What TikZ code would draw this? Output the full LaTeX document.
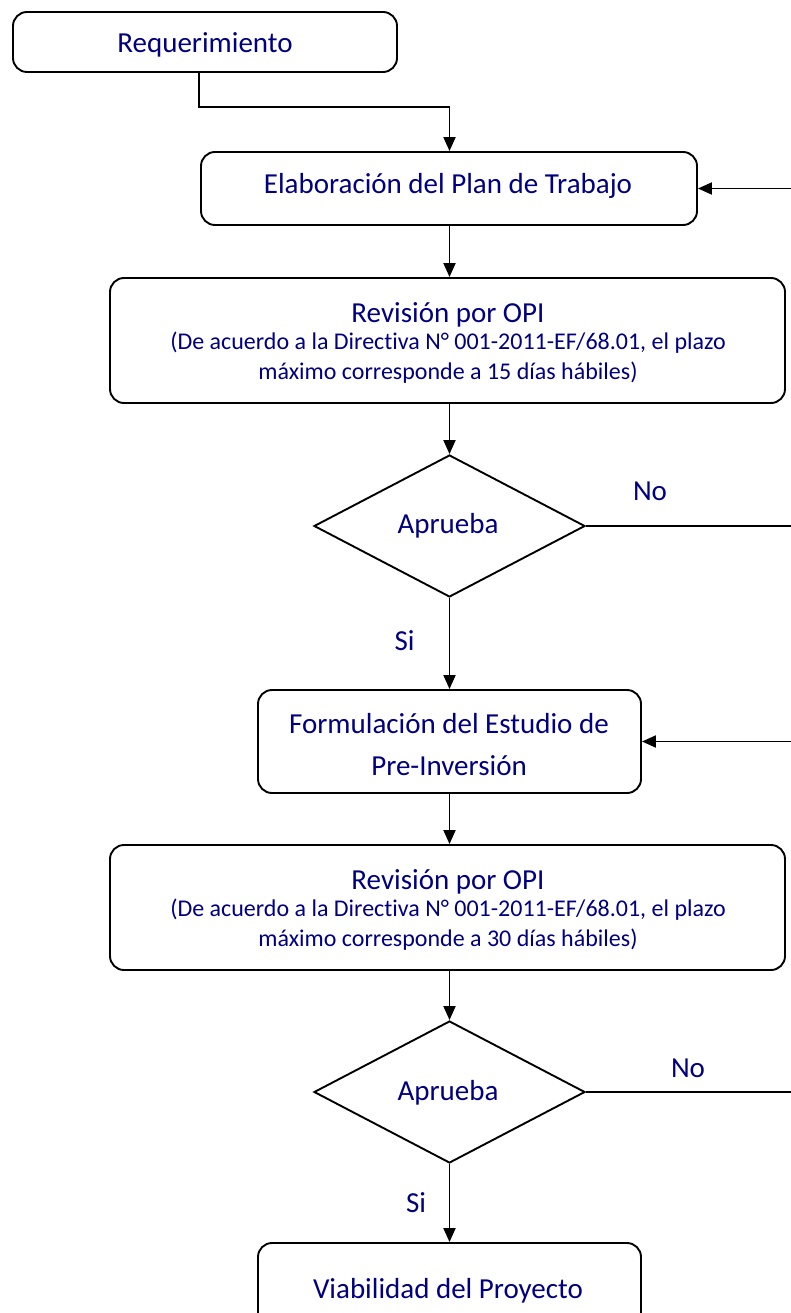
\documentclass[tikz,border=0pt]{standalone}
\usepackage{fontspec}
\setmainfont{Carlito}[Ligatures=NoCommon]
\usetikzlibrary{arrows.meta,shapes.geometric}
\definecolor{txt}{RGB}{0,0,128}
\newcommand{\smalltxt}{\fontsize{24}{30}\selectfont}
\newcommand{\bigtxt}{\fontsize{29}{35}\selectfont}
\begin{document}
\begin{tikzpicture}[x=1pt,y=-1pt,line width=1.9pt,
  box/.style={draw,rounded corners=14pt,inner sep=0pt},
  dec/.style={draw,diamond,inner sep=0pt,minimum width=271pt,minimum height=142pt},
  arr/.style={-{Triangle[length=14pt,width=12pt]}},
  bt/.style={text=txt,font=\bigtxt,inner sep=0pt,anchor=base},
  st/.style={text=txt,font=\smalltxt,inner sep=0pt,anchor=base},
]
\useasboundingbox (0,0) rectangle (791,1313);
\clip (0,0) rectangle (791,1313);
% boxes
\node[box,minimum width=384pt,minimum height=60pt] (req) at (205,42) {};
\node[box,minimum width=496pt,minimum height=73pt] (elab) at (449,188.5) {};
\node[box,minimum width=675pt,minimum height=125pt] (rev1) at (447.5,340.5) {};
\node[dec] (d1) at (449.5,526) {};
\node[box,minimum width=383pt,minimum height=103pt] (form) at (449.5,741.5) {};
\node[box,minimum width=675pt,minimum height=125pt] (rev2) at (447.5,907.5) {};
\node[dec] (d2) at (449.5,1092) {};
\node[box,minimum width=383pt,minimum height=88pt] (viab) at (449.5,1287) {};
% texts
\node[bt] (reqt) at (205,53) {Requerimiento};
\node[bt] (elabt) at (448,194) {Elaboración del Plan de Trabajo};
\node[bt] (rev1a) at (448,322) {Revisión por OPI};
\node[st] (rev1b) at (448,349) {(De acuerdo a la Directiva N° 001-2011-EF/68.01, el plazo};
\node[st] (rev1c) at (448,379) {máximo corresponde a 15 días hábiles)};
\node[bt] (d1t) at (448,533) {Aprueba};
\node[bt] (forma) at (449,733) {Formulación del Estudio de};
\node[bt] (formb) at (449,775) {Pre-Inversión};
\node[bt] (rev2a) at (448,889) {Revisión por OPI};
\node[st] (rev2b) at (448,916) {(De acuerdo a la Directiva N° 001-2011-EF/68.01, el plazo};
\node[st] (rev2c) at (448,946) {máximo corresponde a 30 días hábiles)};
\node[bt] (d2t) at (448,1100) {Aprueba};
\node[bt] (viabt) at (448,1298) {Viabilidad del Proyecto};
\node[bt] (no1) at (650,500) {No};
\node[bt] (si1) at (404.5,650) {Si};
\node[bt] (no2) at (688,1077) {No};
\node[bt] (si2) at (416,1212) {Si};
% connectors
\coordinate (col) at (449.5,0);
\coordinate (k1) at (199,107);
\coordinate (r1) at (805,526);
\coordinate (r2) at (805,1092);
\draw[arr] (k1 |- req.south) -- (k1) -| (elab.north -| col);
\draw[arr] (elab.south -| col) -- (rev1.north -| col);
\draw[arr] (rev1.south -| col) -- (d1.north);
\draw[arr] (d1.south) -- (form.north -| col);
\draw[arr] (form.south -| col) -- (rev2.north -| col);
\draw[arr] (rev2.south -| col) -- (d2.north);
\draw[arr] (d2.south) -- (viab.north -| col);
\draw[arr] (d1.east) -- (r1) |- (elab.east);
\draw[arr] (d2.east) -- (r2) |- (form.east);
\end{tikzpicture}
\end{document}
